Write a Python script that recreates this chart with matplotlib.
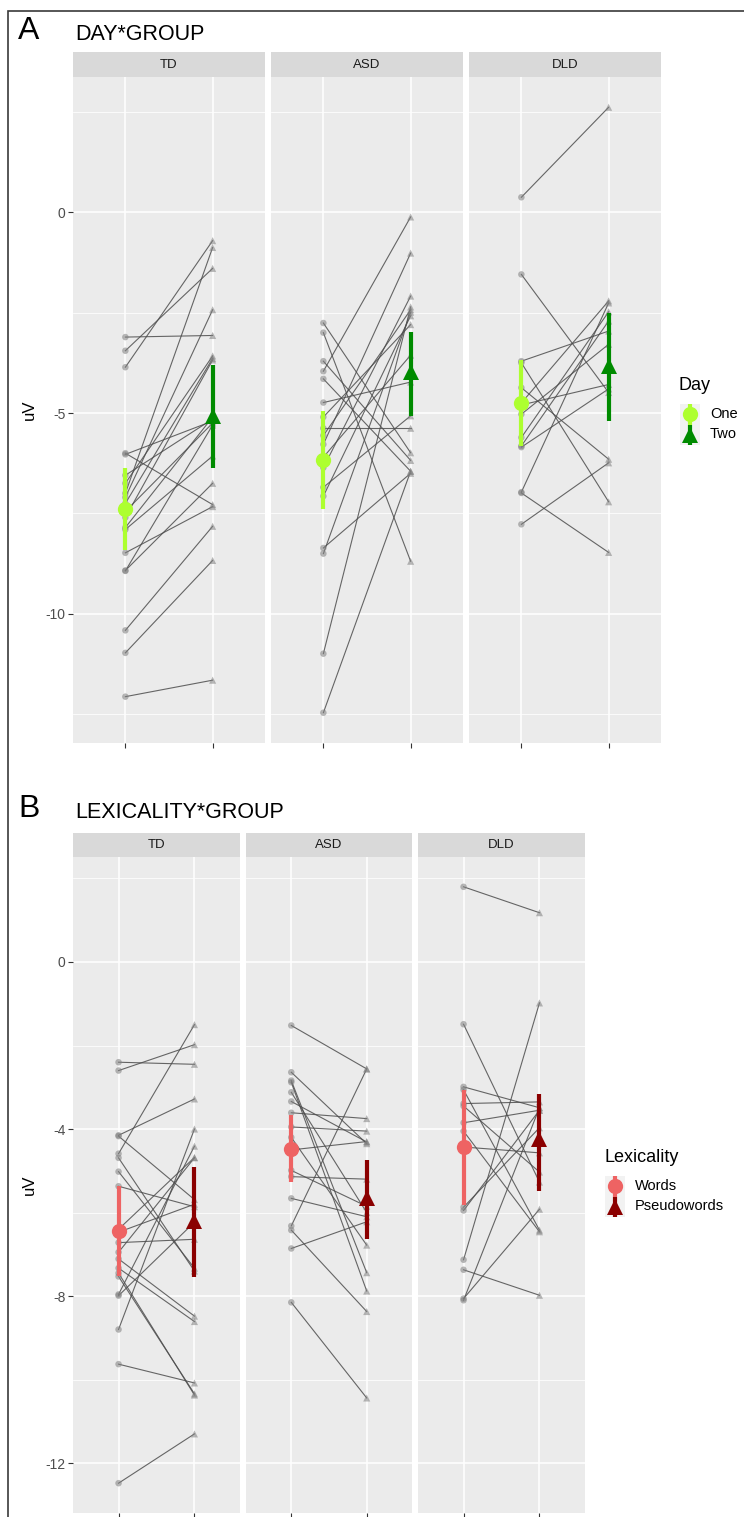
import numpy as np
import matplotlib
matplotlib.use("Agg")
import matplotlib.pyplot as plt
from matplotlib.patches import Rectangle

plt.rcParams['font.family'] = ['Liberation Sans', 'DejaVu Sans']

W, H = 744, 1517

groups = ["TD", "ASD", "DLD"]

# Panel A: per-child amplitude on day one -> day two
td_day_one = [-3.11, -3.45, -3.86, -6.00, -6.03, -6.55, -6.75, -7.00, -7.10, -7.25,
              -7.45, -7.60, -7.85, -7.90, -8.48, -8.92, -8.93, -10.41, -10.97, -12.06]
td_day_two = [-3.07, -1.40, -0.71, -7.28, -5.20, -5.15, -3.58, -0.88, -2.43, -3.64,
              -5.25, -3.68, -5.10, -6.07, -7.33, -6.75, -5.30, -7.82, -8.67, -11.65]
asd_day_one = [-2.76, -3.00, -3.71, -3.96, -4.15, -4.74, -5.10, -5.38, -5.56, -5.78,
               -6.10, -6.36, -6.85, -7.07, -8.36, -8.50, -10.99, -12.46]
asd_day_two = [-5.99, -8.69, -6.18, -0.12, -6.45, -4.23, -2.80, -5.38, -2.43, -1.02,
               -3.56, -2.09, -5.07, -2.58, -6.50, -2.49, -2.36, -6.45]
dld_day_one = [0.37, -1.55, -3.71, -3.75, -4.37, -4.75, -4.80, -5.03, -5.61, -5.82,
               -5.85, -6.97, -6.99, -7.77]
dld_day_two = [2.61, -4.49, -2.96, -7.21, -6.15, -2.21, -4.29, -3.29, -2.48, -2.71,
               -4.40, -2.26, -8.47, -6.24]

day_one_mean = [-7.38, -6.18, -4.74]
day_one_lo = [-8.40, -7.38, -5.82]
day_one_hi = [-6.37, -4.96, -3.67]
day_two_mean = [-5.08, -3.98, -3.82]
day_two_lo = [-6.36, -5.07, -5.20]
day_two_hi = [-3.81, -2.98, -2.52]

# Panel B: per-child amplitude for words -> pseudowords
td_words = [-2.40, -2.60, -4.15, -4.17, -4.59, -4.69, -5.02, -5.37, -6.40, -6.47, -6.72,
            -6.95, -7.11, -7.33, -7.45, -7.53, -7.96, -7.99, -8.80, -9.63, -12.48]
td_pseudo = [-2.45, -1.98, -3.28, -5.69, -1.50, -7.40, -7.33, -5.86, -4.68, -5.80, -6.64,
             -4.69, -8.48, -8.61, -10.37, -10.34, -4.41, -6.23, -4.00, -10.08, -11.30]
asd_words = [-1.52, -2.64, -2.84, -2.88, -3.12, -3.34, -3.61, -3.95, -4.20, -4.50, -4.99,
             -5.14, -5.66, -6.32, -6.42, -6.86, -8.15]
asd_pseudo = [-2.56, -4.35, -7.44, -7.88, -6.00, -4.31, -3.75, -4.05, -6.78, -4.30, -5.85,
              -5.20, -6.10, -2.56, -8.37, -6.22, -10.44]
dld_words = [1.80, -1.49, -2.99, -3.06, -3.39, -3.45, -3.85, -4.05, -4.43, -5.87, -5.95,
             -7.13, -7.37, -8.06, -8.10]
dld_pseudo = [1.18, -5.27, -3.49, -6.42, -3.35, -5.03, -3.55, -6.46, -4.57, -3.97, -3.55,
              -0.98, -7.98, -5.92, -3.49]

words_mean = [-6.44, -4.47, -4.43]
words_lo = [-7.53, -5.26, -5.83]
words_hi = [-5.37, -3.67, -3.07]
pseudo_mean = [-6.20, -5.65, -4.25]
pseudo_lo = [-7.55, -6.64, -5.48]
pseudo_hi = [-4.92, -4.73, -3.17]

day_colors = ["#ADFF2F", "#008B00"]
lex_colors = ["#EE6363", "#8B0000"]
day_labels = ["One", "Two"]
lex_labels = ["Words", "Pseudowords"]


def px_rect(x0, y0, x1, y1):
    return [x0 / W, 1 - y1 / H, (x1 - x0) / W, (y1 - y0) / H]


def expanded(*series):
    vals = np.concatenate([np.asarray(s) for s in series])
    lo, hi = vals.min(), vals.max()
    pad = 0.05 * (hi - lo)
    return lo - pad, hi + pad


def draw_facet(ax, first, second, summary, colors, ylim, major, minor, show_y):
    ax.set_facecolor("#EBEBEB")
    ax.set_xlim(0.4, 2.6)
    ax.set_ylim(*ylim)
    ax.set_xticks([1, 2])
    ax.set_yticks(major)
    ax.set_yticks(minor, minor=True)
    ax.grid(which="major", color="white", lw=1.1)
    ax.grid(which="minor", axis="y", color="white", lw=0.55)
    ax.set_axisbelow(True)
    for s in ax.spines.values():
        s.set_visible(False)
    ax.tick_params(axis="x", labelbottom=False, length=3.5, width=0.8, color="#333333")
    ax.tick_params(axis="y", which="minor", length=0)
    if show_y:
        ax.tick_params(axis="y", which="major", length=3.5, width=0.8, color="#333333",
                       labelsize=10, labelcolor="#4D4D4D", pad=2)
        ax.set_yticklabels([str(v) for v in major])
    else:
        ax.tick_params(axis="y", which="major", left=False, labelleft=False)

    for a, b in zip(first, second):
        ax.plot([1, 2], [a, b], color="#4D4D4D", lw=0.8, alpha=0.85, zorder=2)
    ax.scatter(np.full(len(first), 1), first, s=22, marker="o", color="#7F7F7F",
               alpha=0.55, edgecolors="none", zorder=3)
    ax.scatter(np.full(len(second), 2), second, s=26, marker="^", color="#7F7F7F",
               alpha=0.55, edgecolors="none", zorder=3)

    for i, ((m, lo, hi), c, mk) in enumerate(zip(summary, colors, ["o", "^"])):
        ax.plot([i + 1, i + 1], [lo, hi], color=c, lw=3, solid_capstyle="butt", zorder=4)
        ax.plot(i + 1, m, marker=mk, ms=11 if mk == "o" else 12, color=c, mew=0, zorder=5)


def draw_strip(rect, label):
    sax = fig.add_axes(rect)
    sax.set_facecolor("#D9D9D9")
    sax.set_xticks([])
    sax.set_yticks([])
    for s in sax.spines.values():
        s.set_visible(False)
    sax.text(0.5, 0.5, label, ha="center", va="center", fontsize=9.5, color="#1A1A1A",
             transform=sax.transAxes)


def draw_legend(x0, y_title, y_keys, title, labels, colors):
    fig.text(x0 / W, 1 - y_title / H, title, fontsize=13, va="center", ha="left")
    key_h = 20
    kax = fig.add_axes(px_rect(x0 + 1, y_keys, x0 + 21, y_keys + 2 * key_h + 1))
    kax.set_facecolor("#F2F2F2")
    kax.set_xlim(0, 1)
    kax.set_ylim(0, 2)
    kax.set_xticks([])
    kax.set_yticks([])
    for s in kax.spines.values():
        s.set_visible(False)
    for j, (c, mk) in enumerate(zip(colors, ["o", "^"])):
        yc = 1.5 - j
        kax.plot([0.5, 0.5], [yc - 0.5, yc + 0.5], color=c, lw=3, solid_capstyle="butt")
        kax.plot(0.5, yc, marker=mk, ms=11 if mk == "o" else 12, color=c, mew=0)
        fig.text((x0 + 31) / W, 1 - (y_keys + key_h * (j + 0.5)) / H, labels[j],
                 fontsize=10.5, va="center", ha="left")


fig = plt.figure(figsize=(W / 100, H / 100), dpi=100)

# outer frame
fig.add_artist(Rectangle((8 / W, -0.1), 1.2, 1 - 11 / H + 0.1, transform=fig.transFigure,
                         fill=False, ec="#3A3A3A", lw=1.2))

# ---- panel A ----
fig.text(18 / W, 1 - 31 / H, "A", fontsize=23, va="center", ha="left")
fig.text(75 / W, 1 - 34 / H, "DAY*GROUP", fontsize=15.5, va="center", ha="left")

ylim_a = expanded(td_day_one, td_day_two, asd_day_one, asd_day_two, dld_day_one, dld_day_two)
day_data = [(td_day_one, td_day_two), (asd_day_one, asd_day_two), (dld_day_one, dld_day_two)]
a_x = [(73, 265), (271, 463), (469, 661)]
for k, (g, (x0, x1), (one, two)) in enumerate(zip(groups, a_x, day_data)):
    ax = fig.add_axes(px_rect(x0, 77, x1, 743))
    summary = [(day_one_mean[k], day_one_lo[k], day_one_hi[k]),
               (day_two_mean[k], day_two_lo[k], day_two_hi[k])]
    draw_facet(ax, one, two, summary, day_colors, ylim_a, [0, -5, -10],
               [2.5, -2.5, -7.5, -12.5], k == 0)
    draw_strip(px_rect(x0, 52, x1, 77), g)
    if k == 0:
        ax.set_ylabel("uV", fontsize=12, labelpad=6)

draw_legend(679, 386, 404, "Day", day_labels, day_colors)

# ---- panel B ----
fig.text(18 / W, 1 - 809 / H, "B", fontsize=23, va="center", ha="left")
fig.text(75 / W, 1 - 813 / H, "LEXICALITY*GROUP", fontsize=15.5, va="center", ha="left")

ylim_b = expanded(td_words, td_pseudo, asd_words, asd_pseudo, dld_words, dld_pseudo)
lex_data = [(td_words, td_pseudo), (asd_words, asd_pseudo), (dld_words, dld_pseudo)]
b_x = [(73, 240), (246, 412), (418, 585)]
for k, (g, (x0, x1), (w, p)) in enumerate(zip(groups, b_x, lex_data)):
    ax = fig.add_axes(px_rect(x0, 857, x1, 1513))
    summary = [(words_mean[k], words_lo[k], words_hi[k]),
               (pseudo_mean[k], pseudo_lo[k], pseudo_hi[k])]
    draw_facet(ax, w, p, summary, lex_colors, ylim_b, [0, -4, -8, -12],
               [2, -2, -6, -10], k == 0)
    draw_strip(px_rect(x0, 833, x1, 857), g)
    if k == 0:
        ax.set_ylabel("uV", fontsize=12, labelpad=6)

draw_legend(604, 1158, 1176, "Lexicality", lex_labels, lex_colors)

fig.savefig("out.png", dpi=100)
